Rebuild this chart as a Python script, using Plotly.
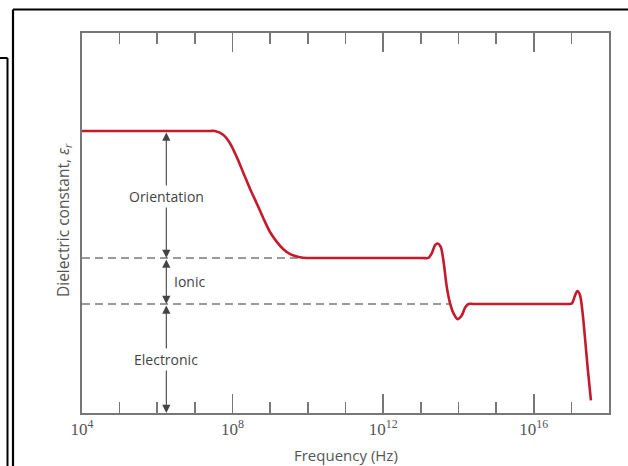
import plotly.graph_objects as go

# ---- data (frequency as log10 exponent, dielectric constant in arbitrary units) ----
curve_exp = [4.0, 6.0, 7.3, 7.53, 7.75, 7.93, 8.11, 8.29, 8.46, 8.64, 8.82, 8.99, 9.17, 9.35,
             9.53, 9.79, 9.97, 10.15,
             11.5, 13.05, 13.20, 13.29, 13.38, 13.45, 13.53, 13.60, 13.69, 13.78, 13.87, 13.98,
             14.09, 14.18, 14.27, 14.4, 15.5, 16.9, 17.01, 17.10, 17.16, 17.23, 17.30, 17.36,
             17.44, 17.52]
curve_eps = [74.2, 74.2, 74.2, 74.2, 73.2, 71.0, 67.4, 63.1, 59.1, 55.2, 51.2, 47.7, 45.1, 43.1,
             41.8, 41.0, 40.8, 40.8,
             40.8, 40.8, 40.8, 42.0, 44.2, 44.6, 43.7, 40.2, 33.2, 28.8, 26.2, 24.7,
             25.7, 27.8, 28.7, 28.7, 28.7, 28.7, 28.8, 31.0, 32.1, 31.0, 26.2, 20.0,
             11.2, 3.3]

dash_levels = [40.8, 28.7]          # levels of dashed guide lines
dash_end_exp = [9.8, 13.75]         # where each dashed line meets the curve
top_level = 74.2
axis_bottom = 0.0
arrow_exp = 6.24

region_labels = ["Orientation", "Ionic", "Electronic"]
region_label_eps = [57.1, 34.6, 14.1]

major_tick_exp = [4, 8, 12, 16]
major_tick_text = ["10<sup>4</sup>", "10<sup>8</sup>", "10<sup>12</sup>", "10<sup>16</sup>"]
minor_tick_exp = [e for e in range(4, 19)]

x_title = "Frequency (Hz)"
y_title = "Dielectric constant, <i>ε<sub>r</sub></i>"

x_range_exp = [4, 18]
y_range = [0, 100]

fig = go.Figure()

# dashed guide lines
for lvl, end in zip(dash_levels, dash_end_exp):
    fig.add_trace(go.Scatter(
        x=[10 ** x_range_exp[0], 10 ** end], y=[lvl, lvl], mode="lines",
        line=dict(color="#7a7a7a", width=1.6, dash="8px,5px"),
        hoverinfo="skip", showlegend=False))

# main curve
fig.add_trace(go.Scatter(
    x=[10 ** e for e in curve_exp], y=curve_eps, mode="lines",
    line=dict(color="#c41a2c", width=2.6, shape="spline", smoothing=0.8),
    hoverinfo="skip", showlegend=False))

# double-headed arrows
levels = [top_level] + dash_levels + [axis_bottom]
annotations = []
for i in range(3):
    annotations.append(dict(
        x=arrow_exp, y=levels[i + 1], ax=arrow_exp, ay=levels[i],
        xref="x", yref="y", axref="x", ayref="y", text="",
        showarrow=True, arrowhead=2, startarrowhead=2, arrowside="end+start",
        arrowsize=1.5, startarrowsize=1.5, arrowwidth=1.1, arrowcolor="#444",
        standoff=0, startstandoff=0))

lab_font = dict(family="Open Sans", size=14, color="#444")
# region labels
annotations.append(dict(x=arrow_exp, y=region_label_eps[0], xref="x", yref="y",
                        text=region_labels[0], showarrow=False, bgcolor="white", font=lab_font))
annotations.append(dict(x=arrow_exp + 0.16, y=region_label_eps[1], xref="x", yref="y",
                        text=region_labels[1], showarrow=False, xanchor="left", font=lab_font))
annotations.append(dict(x=arrow_exp, y=region_label_eps[2], xref="x", yref="y",
                        text=region_labels[2], showarrow=False, bgcolor="white", font=lab_font))

# decorative page frames (pixel -> paper conversion)
L, R, T, B, W, H = 82, 19, 33, 53, 628, 466
pw, ph = W - L - R, H - T - B
def px(x):
    return (x - L) / pw
def py(y):
    return (H - B - y) / ph

# axis titles
annotations.append(dict(x=px(346), y=py(455), xref="paper", yref="paper", text=x_title,
                        showarrow=False, xanchor="center", yanchor="middle",
                        font=dict(family="Open Sans", size=15, color="#555")))
annotations.append(dict(x=px(63), y=py(220), xref="paper", yref="paper", text=y_title,
                        showarrow=False, xanchor="center", yanchor="middle", textangle=-90,
                        font=dict(family="Open Sans", size=15.5, color="#555")))

shapes = [
    dict(type="line", xref="paper", yref="paper", x0=px(13), y0=py(9.5), x1=px(628), y1=py(9.5),
         line=dict(color="black", width=2.2)),
    dict(type="line", xref="paper", yref="paper", x0=px(13), y0=py(9.5), x1=px(13), y1=py(466),
         line=dict(color="black", width=2.2)),
    dict(type="line", xref="paper", yref="paper", x0=px(0), y0=py(58), x1=px(7.5), y1=py(58),
         line=dict(color="black", width=2)),
    dict(type="line", xref="paper", yref="paper", x0=px(7.5), y0=py(58), x1=px(7.5), y1=py(466),
         line=dict(color="black", width=2)),
]

fig.update_layout(
    width=W, height=H,
    margin=dict(l=L, r=R, t=T, b=B),
    plot_bgcolor="white", paper_bgcolor="white",
    hovermode=False,
    annotations=annotations, shapes=shapes,
    xaxis=dict(
        type="log", range=x_range_exp,
        showline=True, linecolor="#777", linewidth=1.6, mirror="ticks",
        showgrid=False, zeroline=False,
        tickmode="array", tickvals=[10 ** e for e in major_tick_exp], ticktext=major_tick_text,
        ticks="inside", ticklen=19, tickwidth=1.6, tickcolor="#777",
        tickfont=dict(family="Liberation Serif", size=17, color="#555"),
        minor=dict(tickmode="array", tickvals=[10 ** e for e in minor_tick_exp],
                   ticks="inside", ticklen=11, tickwidth=1.6, tickcolor="#777", showgrid=False),
    ),
    yaxis=dict(
        range=y_range, showline=True, linecolor="#777", linewidth=1.6, mirror=True,
        showgrid=False, zeroline=False, showticklabels=False, ticks="",
    ),
)

fig.write_html("out.html", config={"displayModeBar": False, "staticPlot": True},
               post_script="document.body.style.margin='0';document.body.style.overflow='hidden';")
